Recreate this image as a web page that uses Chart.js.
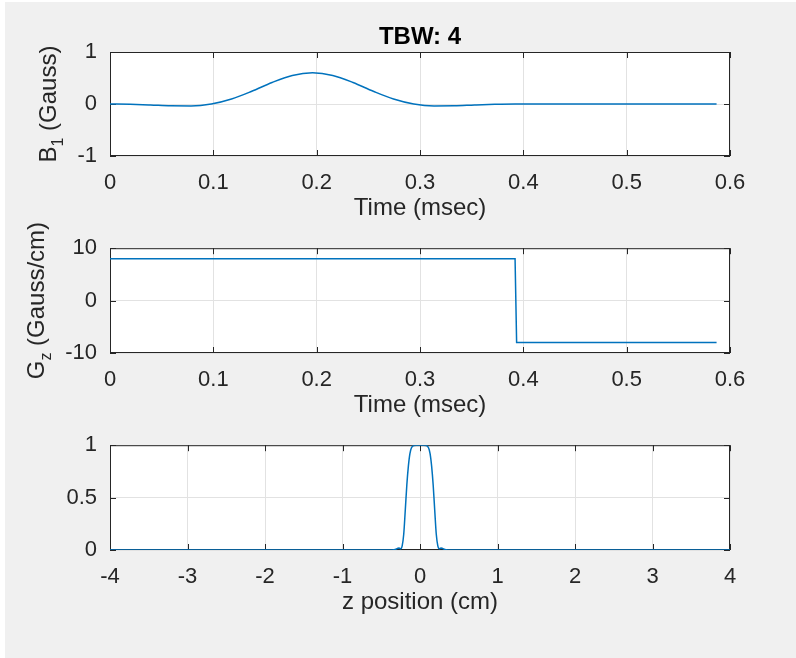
<!DOCTYPE html>
<html lang="en">
  <head>
    <meta charset="UTF-8" />
    <title>TBW: 4</title>
    <style>
      body {
        margin: 0;
        background-color: #ffffff;
        width: 796px;
        height: 658px;
        overflow: hidden;
      }
      #fig {
        position: absolute;
        left: 5px;
        top: 2px;
        width: 791px;
        height: 656px;
        background-color: #f0f0f0;
      }
      canvas {
        position: absolute;
        left: 0;
      }
    </style>
    <script src="https://cdn.jsdelivr.net/npm/chart.js"></script>
  </head>
  <body>
    <div id="fig"></div>
    <canvas id="b1" width="796" height="230" style="top: 0px"></canvas>
    <canvas id="gz" width="796" height="205" style="top: 222px"></canvas>
    <canvas id="prof" width="796" height="205" style="top: 419px"></canvas>
    <script>
      // B1 pulse (Gauss) vs time (msec)
      const b1Time = [0, 0.0196, 0.0392, 0.0588, 0.0784, 0.098, 0.1176, 0.1372, 0.1568, 0.1764, 0.196,
        0.2156, 0.2352, 0.2548, 0.2744, 0.294, 0.3136, 0.3332, 0.3528, 0.3724, 0.392, 0.587];
      const b1Vals = [0, -0.006, -0.019, -0.035, -0.037, 0, 0.096, 0.245, 0.414, 0.549, 0.6,
        0.549, 0.414, 0.245, 0.096, 0, -0.037, -0.035, -0.019, -0.006, 0, 0];

      // Gz gradient (Gauss/cm) vs time (msec)
      const gzTime = [0, 0.392, 0.3935, 0.587];
      const gzVals = [8, 8, -8, -8];

      // slice profile vs z position (cm)
      const profZ = [-4, -0.36, -0.32, -0.29, -0.27, -0.25, -0.23, -0.21, -0.19, -0.17, -0.15, -0.13, -0.11, -0.08, -0.05, 0,
        0.05, 0.08, 0.11, 0.13, 0.15, 0.17, 0.19, 0.21, 0.23, 0.25, 0.27, 0.29, 0.32, 0.36, 4];
      const profVals = [0, 0, 0.004, 0.015, 0.02, 0.012, 0.04, 0.15, 0.38, 0.62, 0.8, 0.92, 0.975, 0.997, 1, 1,
        1, 0.997, 0.975, 0.92, 0.8, 0.62, 0.38, 0.15, 0.04, 0.012, 0.02, 0.015, 0.004, 0, 0];

      // tick labels
      const timeTicks = [0, 0.1, 0.2, 0.3, 0.4, 0.5, 0.6];
      const zTicks = [-4, -3, -2, -1, 0, 1, 2, 3, 4];
      const b1Ticks = [-1, 0, 1];
      const gzTicks = [-10, 0, 10];
      const profTicks = [0, 0.5, 1];

      const axisColor = '#262626';
      const gridColor = '#e2e2e2';
      const lineColor = '#0072bd';
      const fontFamily = '"Liberation Sans", Arial, Helvetica, sans-serif';

      Chart.defaults.font.family = fontFamily;
      Chart.defaults.color = axisColor;

      // white axes box, inward ticks, title and y label with subscript
      const matlabAxes = {
        id: 'matlabAxes',
        beforeDraw(chart) {
          const { ctx, chartArea: a } = chart;
          ctx.save();
          ctx.fillStyle = '#ffffff';
          ctx.fillRect(a.left, a.top, a.right - a.left, a.bottom - a.top);
          ctx.restore();
        },
        beforeDatasetsDraw(chart) {
          const { ctx, chartArea: a, scales } = chart;
          ctx.save();
          ctx.strokeStyle = axisColor;
          ctx.lineWidth = 1;
          ctx.strokeRect(a.left + 0.5, a.top + 0.5, a.right - a.left - 1, a.bottom - a.top - 1);
          ctx.beginPath();
          scales.x.ticks.forEach((t) => {
            const px = Math.round(scales.x.getPixelForValue(t.value)) + 0.5;
            ctx.moveTo(px, a.bottom);
            ctx.lineTo(px, a.bottom - 6);
            ctx.moveTo(px, a.top);
            ctx.lineTo(px, a.top + 6);
          });
          scales.y.ticks.forEach((t) => {
            const py = Math.round(scales.y.getPixelForValue(t.value)) + 0.5;
            ctx.moveTo(a.left, py);
            ctx.lineTo(a.left + 6, py);
            ctx.moveTo(a.right, py);
            ctx.lineTo(a.right - 6, py);
          });
          ctx.stroke();
          ctx.restore();
        },
        afterDraw(chart, args, opts) {
          const { ctx, chartArea: a } = chart;
          ctx.save();
          ctx.fillStyle = '#000000';
          if (opts.title) {
            ctx.font = 'bold 24px ' + fontFamily;
            ctx.textAlign = 'center';
            ctx.textBaseline = 'alphabetic';
            ctx.fillText(opts.title, (a.left + a.right) / 2, 44);
          }
          if (opts.yMain) {
            ctx.fillStyle = axisColor;
            ctx.textAlign = 'left';
            ctx.textBaseline = 'alphabetic';
            const big = '24px ' + fontFamily;
            const small = '16px ' + fontFamily;
            ctx.font = big;
            const w1 = ctx.measureText(opts.yMain).width;
            const w3 = ctx.measureText(opts.yRest).width;
            ctx.font = small;
            const w2 = ctx.measureText(opts.ySub).width;
            ctx.translate(opts.yX, (a.top + a.bottom) / 2);
            ctx.rotate(-Math.PI / 2);
            let x0 = -(w1 + w2 + w3) / 2;
            ctx.font = big;
            ctx.fillText(opts.yMain, x0, 0);
            ctx.font = small;
            ctx.fillText(opts.ySub, x0 + w1, 7);
            ctx.font = big;
            ctx.fillText(opts.yRest, x0 + w1 + w2, 0);
          }
          ctx.restore();
        }
      };

      function makeChart(id, xs, ys, xTicks, yTicks, xTitle, topPad, extra) {
        const points = xs.map((v, i) => ({ x: v, y: ys[i] }));
        return new Chart(document.getElementById(id), {
          type: 'line',
          data: {
            datasets: [{
              data: points,
              borderColor: lineColor,
              borderWidth: 1.5,
              pointRadius: 0,
              cubicInterpolationMode: extra.smooth ? 'monotone' : 'default',
              tension: 0,
              fill: false
            }]
          },
          options: {
            responsive: false,
            animation: false,
            events: [],
            layout: { padding: { top: topPad, right: 66, bottom: 0, left: 0 } },
            plugins: {
              legend: { display: false },
              tooltip: { enabled: false },
              matlabAxes: extra.labels
            },
            scales: {
              x: {
                type: 'linear',
                min: xTicks[0],
                max: xTicks[xTicks.length - 1],
                afterBuildTicks: (s) => { s.ticks = xTicks.map((v) => ({ value: v })); },
                afterFit: (s) => { s.height = 74; },
                grid: { color: gridColor, drawTicks: false },
                border: { display: false },
                ticks: {
                  autoSkip: false,
                  maxRotation: 0,
                  padding: 14,
                  font: { size: 22 },
                  callback: (v) => String(v)
                },
                title: {
                  display: true,
                  text: xTitle,
                  font: { size: 24 },
                  padding: { top: 0, bottom: 7 }
                }
              },
              y: {
                type: 'linear',
                min: yTicks[0],
                max: yTicks[yTicks.length - 1],
                afterBuildTicks: (s) => { s.ticks = yTicks.map((v) => ({ value: v })); },
                afterFit: (s) => { s.width = 110; },
                grid: { color: gridColor, drawTicks: false },
                border: { display: false },
                ticks: {
                  padding: 13,
                  font: { size: 22 },
                  callback: (v) => String(v)
                }
              }
            }
          },
          plugins: [matlabAxes]
        });
      }

      makeChart('b1', b1Time, b1Vals, timeTicks, b1Ticks, 'Time (msec)', 52, {
        smooth: true,
        labels: { title: 'TBW: 4', yMain: 'B', ySub: '1', yRest: ' (Gauss)', yX: 56 }
      });
      makeChart('gz', gzTime, gzVals, timeTicks, gzTicks, 'Time (msec)', 24, {
        smooth: false,
        labels: { yMain: 'G', ySub: 'z', yRest: ' (Gauss/cm)', yX: 44 }
      });
      makeChart('prof', profZ, profVals, zTicks, profTicks, 'z position (cm)', 24, {
        smooth: true,
        labels: {}
      });
    </script>
  </body>
</html>
